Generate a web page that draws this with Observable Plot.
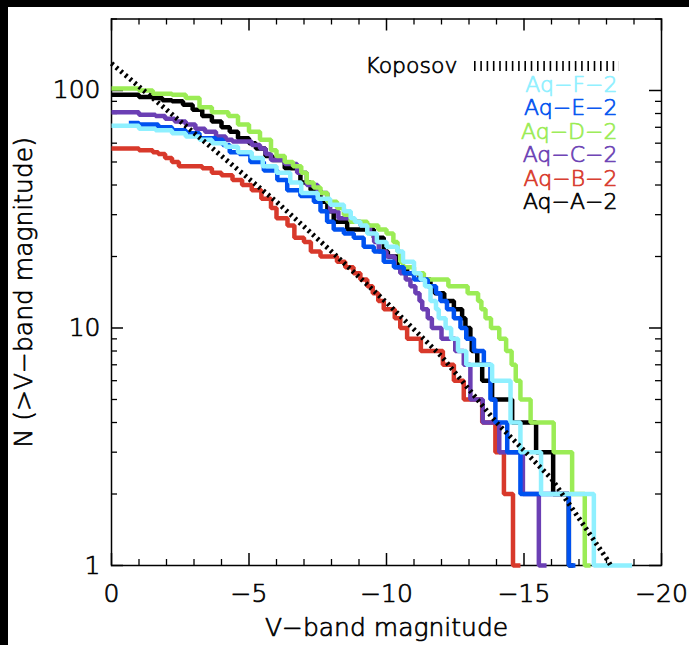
<!DOCTYPE html>
<html><head><meta charset="utf-8">
<script src="https://cdn.jsdelivr.net/npm/d3@7"></script>
<script src="https://cdn.jsdelivr.net/npm/@observablehq/plot@0.6"></script>
<style>
html,body{margin:0;padding:0;background:#000;width:689px;height:645px;overflow:hidden;}
#wrap{position:absolute;left:8px;top:7px;width:681px;height:638px;background:#fff;}
svg{display:block;}
g[aria-label$="tick label"] text{stroke:#000;stroke-width:0.7px;}
</style></head><body><div id="wrap"></div>
<script>
// ---- data: [V-band magnitude where count starts, N(>M)] ; last point marks the end ----
const aqA = [[0,96],[-1,94],[-1.5,93],[-1.85,91],[-2.2,90],[-2.6,87],[-2.95,83],[-3.3,78],[-3.65,74],[-4.0,70],[-4.3,67],[-4.6,63],[-5.0,60],[-5.25,57],[-5.6,53],[-5.85,51],[-6.3,47],[-6.87,41],[-7.24,38],[-7.6,34],[-7.85,31],[-8.08,28],[-8.57,26],[-9.54,24],[-9.9,21],[-10.05,20],[-10.4,18],[-10.75,17],[-11.2,16],[-11.6,15],[-11.75,14],[-12.1,13],[-12.45,12],[-12.75,11],[-12.87,10],[-13.05,9],[-13.1,8],[-13.3,7],[-13.48,6],[-13.84,5],[-14.57,4],[-15.44,3],[-16.06,2],[-16.63,1],[-16.8,1]];
const aqB = [[0,57],[-1,56],[-1.5,55],[-1.7,54],[-1.95,52],[-2.2,50],[-2.45,48],[-3.3,47],[-3.65,45],[-4.0,44],[-4.4,42],[-4.75,40],[-5.1,38],[-5.45,35],[-5.8,32],[-6.0,29],[-6.4,27],[-6.65,24],[-7.0,23],[-7.25,21],[-7.6,20],[-8.2,19],[-8.5,18],[-8.8,17],[-9.05,16],[-9.3,15],[-9.5,14],[-9.7,13],[-9.9,12],[-10.3,11],[-10.5,10],[-10.75,9],[-11.25,8],[-12.05,7],[-12.45,6],[-12.81,5],[-13.48,4],[-13.96,3],[-14.27,2],[-14.6,1],[-14.87,1]];
const aqC = [[0,81],[-1,79],[-1.6,78],[-1.95,76],[-2.3,74],[-2.7,72],[-3.05,69],[-3.4,67],[-3.8,64],[-4.15,62],[-4.4,61],[-5.1,59],[-5.4,57],[-5.6,54],[-5.8,51],[-6.3,49],[-6.75,45],[-7.1,40],[-7.5,37],[-7.85,34],[-7.95,31],[-8.25,29],[-8.7,28],[-9.05,27],[-9.4,25],[-9.55,23],[-9.72,21],[-10.0,20],[-10.3,18],[-10.5,17],[-10.7,16],[-10.87,15],[-11.05,14],[-11.2,13],[-11.3,12],[-11.5,11],[-11.65,10],[-12.0,9],[-12.5,8],[-12.81,7],[-13.05,5],[-13.5,4],[-14.1,3],[-14.96,2],[-15.54,1],[-15.82,1]];
const aqD = [[0,102],[-1,100],[-1.5,97],[-2.2,96],[-2.7,93],[-3.2,85],[-3.65,81],[-4.25,78],[-4.6,72],[-5.0,67],[-5.4,62],[-5.8,56],[-6.0,53],[-6.3,50],[-6.6,48],[-6.9,45],[-7.1,41],[-7.35,39],[-7.6,37],[-7.85,34],[-8.2,32],[-8.45,30],[-8.7,28],[-9.3,27],[-9.7,26],[-10.0,25],[-10.25,23],[-10.4,21],[-10.5,19],[-10.6,18],[-11.0,17],[-11.36,16],[-12.25,15],[-12.95,14],[-13.33,13],[-13.45,12],[-13.6,11],[-13.8,10],[-14.1,9],[-14.35,8],[-14.55,7],[-14.7,6],[-14.87,5],[-15.24,4],[-16.08,3],[-16.75,2],[-17.21,1],[-17.42,1]];
const aqE = [[-0.63,73],[-1,72],[-1.7,70],[-2.2,68],[-2.7,66],[-3.2,63],[-3.8,62],[-4.05,59],[-4.3,55],[-4.65,54],[-5.05,50],[-5.54,46],[-6.03,42],[-6.39,38],[-6.87,36],[-7.36,34],[-7.6,31],[-7.84,28],[-8.08,26],[-8.45,25],[-8.81,24],[-9.17,22],[-9.54,21],[-9.9,19],[-10.27,18],[-10.63,17],[-11.0,16],[-11.5,15],[-11.8,14],[-11.96,13],[-12.2,12],[-12.45,11],[-12.69,10],[-12.9,9],[-13.18,8],[-13.54,7],[-13.78,5],[-13.96,4],[-14.39,3],[-14.87,2],[-16.63,1],[-16.87,1]];
const aqF = [[0,71],[-1,69],[-1.6,68],[-2.2,66],[-2.7,64],[-3.2,62],[-3.65,60],[-4.15,58],[-4.6,55],[-5.1,52],[-5.5,48],[-6.0,45],[-6.5,41],[-6.9,37],[-7.5,35],[-7.95,33],[-8.45,31],[-8.7,29],[-8.85,28],[-9.05,27],[-9.3,25],[-9.65,23],[-10.0,22],[-10.4,21],[-10.6,19],[-11.0,17],[-11.24,16],[-11.4,15],[-11.6,13],[-11.8,12],[-11.9,11],[-12.15,10],[-12.35,9],[-12.6,8],[-12.9,7],[-13.84,6],[-14.51,4],[-14.87,3],[-15.62,2],[-17.54,1],[-18.93,1]];
const koposov = [[0,130],[-2,83],[-4,53],[-6,34],[-8,21],[-10,12.8],[-12,7.6],[-14,4.0],[-16,2.32],[-17,1.58],[-18,1.07],[-18.15,1.0]];

const seriesNames = ["Aq−A−2","Aq−B−2","Aq−C−2","Aq−D−2","Aq−E−2","Aq−F−2"];
const seriesData = [aqA, aqB, aqC, aqD, aqE, aqF];
const seriesColors = ["#000000","#d8392b","#6b3fb4","#9bec55","#0052f0","#8ff0ff"];
const legendOrder = ["Aq−F−2","Aq−E−2","Aq−D−2","Aq−C−2","Aq−B−2","Aq−A−2"];

const xMajor = [0,-5,-10,-15,-20];
const xMinor = [-1,-2,-3,-4,-6,-7,-8,-9,-11,-12,-13,-14,-16,-17,-18,-19];
const yMajor = [1,10,100];
const yMinor = [2,3,4,5,6,7,8,9,20,30,40,50,60,70,80,90,200];

// ---- layout ----
const W = 681, H = 638;
const mL = 103, mR = 28, mT = 11.5, mB = 80;
const fw = W - mL - mR, fh = H - mT - mB;
const font = "DejaVu Sans";
const thick = 0.7; // text outline to thicken the light face

function legendSample(index, scales, values, dims) {
  const right = dims.width - dims.marginRight;
  const y = dims.marginTop + 47.5;
  return d3.create("svg:line")
    .attr("x1", right - 187).attr("x2", right - 42)
    .attr("y1", y).attr("y2", y)
    .attr("stroke", "black").attr("stroke-width", 10)
    .attr("stroke-dasharray", "1.6 4.7").node();
}

const marks = [
  Plot.frame({stroke: "black", strokeWidth: 1.5}),
  Plot.tickX(xMinor, {x: d => d, insetTop: fh - 6, strokeWidth: 1.3}),
  Plot.tickX(xMinor, {x: d => d, insetBottom: fh - 6, strokeWidth: 1.3}),
  Plot.tickX(xMajor, {x: d => d, insetTop: fh - 12, strokeWidth: 1.5}),
  Plot.tickX(xMajor, {x: d => d, insetBottom: fh - 12, strokeWidth: 1.5}),
  Plot.tickY(yMinor, {y: d => d, insetRight: fw - 6, strokeWidth: 1.3}),
  Plot.tickY(yMinor, {y: d => d, insetLeft: fw - 6, strokeWidth: 1.3}),
  Plot.tickY(yMajor, {y: d => d, insetRight: fw - 12, strokeWidth: 1.5}),
  Plot.tickY(yMajor, {y: d => d, insetLeft: fw - 12, strokeWidth: 1.5}),
  Plot.axisX({ticks: xMajor, tickSize: 0, tickPadding: 19, label: null, fontSize: 25}),
  Plot.axisY({ticks: yMajor, tickSize: 0, tickPadding: 11, label: null, fontSize: 25, tickFormat: d => String(d)}),
  Plot.text(["V−band magnitude"], {frameAnchor: "bottom", dy: 62, lineAnchor: "middle", textAnchor: "middle", fontSize: 25, fill: "black", stroke: "black", strokeWidth: thick}),
  Plot.text(["N (>V−band magnitude)"], {frameAnchor: "left", dx: -88, rotate: -90, lineAnchor: "middle", textAnchor: "middle", fontSize: 25, fill: "black", stroke: "black", strokeWidth: thick})
];

seriesData.forEach((d, i) => {
  marks.push(Plot.line(d, {x: p => p[0], y: p => p[1], curve: "step-after",
    stroke: seriesColors[i], strokeWidth: 4.5, strokeLinejoin: "miter", strokeLinecap: "butt"}));
});
marks.push(Plot.line(koposov, {x: p => p[0], y: p => p[1], stroke: "black", strokeWidth: 5,
  strokeDasharray: "2.4 3.6", strokeLinecap: "butt", strokeLinejoin: "miter"}));

// legend
marks.push(Plot.text(["Koposov"], {frameAnchor: "top-right", dx: -204, dy: 47.3, textAnchor: "end", lineAnchor: "middle", fontSize: 22, fill: "black", stroke: "black", strokeWidth: thick}));
marks.push(legendSample);
legendOrder.forEach((name, k) => {
  const i = seriesNames.indexOf(name);
  marks.push(Plot.text([name], {frameAnchor: "top-right", dx: -44, dy: 65.8 + 23.45 * k, textAnchor: "end", lineAnchor: "middle", fontSize: 22, fill: seriesColors[i], stroke: seriesColors[i], strokeWidth: thick}));
});

const chart = Plot.plot({
  width: W, height: H,
  marginLeft: mL, marginRight: mR, marginTop: mT, marginBottom: mB,
  style: {fontFamily: font, fontSize: "25px", fontWeight: 200, background: "white", color: "black", overflow: "visible"},
  x: {domain: [0, -20], axis: null},
  y: {type: "log", domain: [1, 200], axis: null},
  marks
});
document.getElementById("wrap").appendChild(chart);
</script>
</body></html>
